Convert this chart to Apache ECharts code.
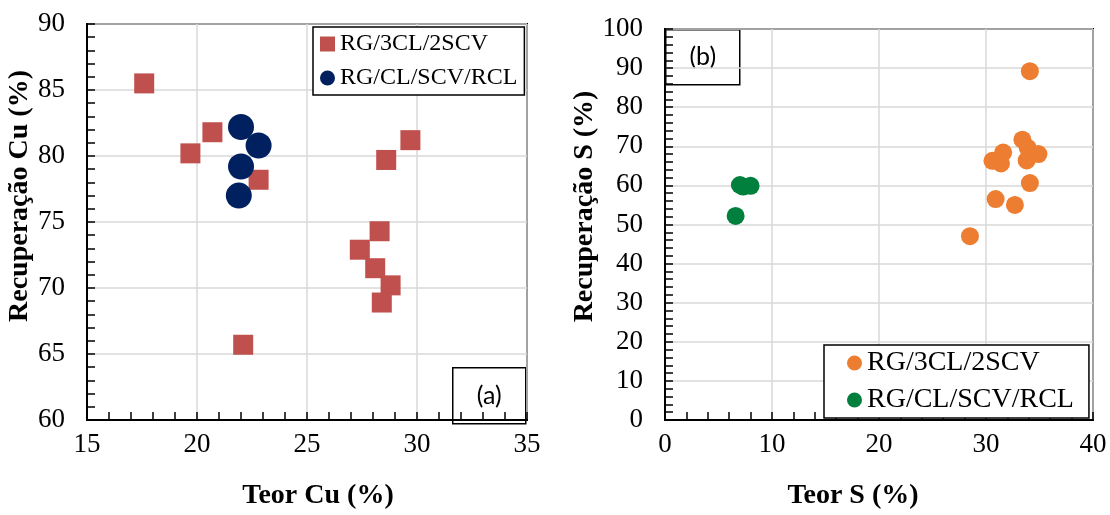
<!DOCTYPE html>
<html>
<head>
<meta charset="utf-8">
<script src="https://cdn.jsdelivr.net/npm/echarts@6/dist/echarts.min.js"></script>
<style>
  html, body { margin: 0; padding: 0; background: #fff; }
  #main { width: 1110px; height: 515px; }
</style>
</head>
<body>
<div id="main"></div>
<script>
// (a) Cu
var cuTeor3 = [17.6, 20.7, 19.7, 22.8, 29.7, 28.6, 28.3, 27.4, 28.1, 28.8, 28.4, 22.1];
var cuRec3 = [85.5, 81.8, 80.2, 78.2, 81.2, 79.7, 74.3, 72.9, 71.5, 70.2, 68.9, 65.7];
var cuTeorRcl = [22.0, 22.8, 22.0, 21.9];
var cuRecRcl = [82.2, 80.8, 79.2, 77.0];
// (b) S
var sTeor3 = [34.1, 33.4, 33.9, 34.9, 33.8, 31.6, 30.6, 31.4, 34.1, 30.9, 32.7, 28.5];
var sRec3 = [89.2, 71.7, 69.6, 68.0, 66.4, 68.4, 66.3, 65.6, 60.6, 56.5, 55.0, 47.0];
var sTeorRcl = [7.0, 7.3, 8.0, 6.6];
var sRecRcl = [60.1, 59.7, 59.9, 52.2];

var name1 = 'RG/3CL/2SCV';
var name2 = 'RG/CL/SCV/RCL';

function pares(xs, ys) {
    var out = [];
    for (var i = 0; i < xs.length; i++) {
        out.push([xs[i], ys[i]]);
    }
    return out;
}

var serif = 'Liberation Serif';

function eixo(gi, min, max, step, nome, gap, pad, vertical) {
    return {
        type: 'value',
        gridIndex: gi,
        min: min,
        max: max,
        interval: step,
        name: nome,
        nameLocation: 'middle',
        nameGap: gap,
        nameTextStyle: {
            fontFamily: serif, fontSize: 28, fontWeight: 'bold', color: '#000',
            padding: pad
        },
        axisLine: { show: true, onZero: false, lineStyle: { color: '#000', width: 2 } },
        axisTick: { show: true, inside: true, length: 8, lineStyle: { color: '#000', width: 1.5 } },
        minorTick: { show: true, splitNumber: 5, length: 8, lineStyle: { color: '#000', width: 1.5 } },
        axisLabel: {
            fontFamily: serif, fontSize: 27, color: '#000',
            margin: vertical ? 22 : 11
        },
        splitLine: { show: true, lineStyle: { color: '#d9d9d9', width: 1.5 } },
        z: 1
    };
}

var myChart = echarts.init(document.getElementById('main'));

var option = {
    animation: false,
    backgroundColor: '#fff',
    grid: [
        { left: 87, right: 583, top: 24, bottom: 92, show: true, borderColor: '#000', borderWidth: 2 },
        { left: 665, right: 17, top: 29, bottom: 92, show: true, borderColor: '#000', borderWidth: 2 }
    ],
    xAxis: [
        eixo(0, 15, 35, 5, 'Teor Cu (%)', 62, [0, 0, 0, 22], false),
        eixo(1, 0, 40, 10, 'Teor S (%)', 62, [0, 52, 0, 0], false)
    ],
    yAxis: [
        eixo(0, 60, 90, 5, 'Recuperação Cu (%)', 48, [0, 0, 0, 52], true),
        eixo(1, 0, 100, 10, 'Recuperação S (%)', 57, [0, 0, 0, 36], true)
    ],
    legend: [
        {
            left: 313, top: 27, orient: 'vertical',
            padding: [5, 7, 5, 7], itemGap: 10,
            itemWidth: 15, itemHeight: 15,
            backgroundColor: '#fff', borderColor: '#000', borderWidth: 1.5,
            textStyle: { fontFamily: serif, fontSize: 24, lineHeight: 24, color: '#000' },
            selectedMode: false,
            data: [
                { name: name1, icon: 'rect', itemStyle: { color: '#c0504d' } },
                { name: name2, icon: 'circle', itemStyle: { color: '#002060' } }
            ]
        },
        {
            left: 824, top: 345, orient: 'vertical',
            padding: [4, 15, 4, 23], itemGap: 9,
            itemWidth: 15, itemHeight: 15,
            backgroundColor: '#fff', borderColor: '#000', borderWidth: 1.5,
            textStyle: { fontFamily: serif, fontSize: 28, lineHeight: 28, color: '#000' },
            selectedMode: false,
            data: [
                { name: name1, icon: 'circle', itemStyle: { color: '#ed7d31' } },
                { name: name2, icon: 'circle', itemStyle: { color: '#00803c' } }
            ]
        }
    ],
    series: [
        {
            name: name1, type: 'scatter', xAxisIndex: 0, yAxisIndex: 0,
            symbol: 'rect', symbolSize: 20, z: 3,
            itemStyle: { color: '#c0504d', opacity: 1 },
            data: pares(cuTeor3, cuRec3)
        },
        {
            name: name2, type: 'scatter', xAxisIndex: 0, yAxisIndex: 0,
            symbol: 'circle', symbolSize: 26, z: 3,
            itemStyle: { color: '#002060', opacity: 1 },
            data: pares(cuTeorRcl, cuRecRcl)
        },
        {
            name: name1, type: 'scatter', xAxisIndex: 1, yAxisIndex: 1,
            symbol: 'circle', symbolSize: 18, z: 3,
            itemStyle: { color: '#ed7d31', opacity: 1 },
            data: pares(sTeor3, sRec3)
        },
        {
            name: name2, type: 'scatter', xAxisIndex: 1, yAxisIndex: 1,
            symbol: 'circle', symbolSize: 18, z: 3,
            itemStyle: { color: '#00803c', opacity: 1 },
            data: pares(sTeorRcl, sRecRcl)
        }
    ],
    graphic: [
        {
            type: 'group', left: 452, top: 367, z: 100,
            children: [
                { type: 'rect', shape: { x: 0, y: 0, width: 73, height: 56 },
                  style: { fill: '#fff', stroke: '#000', lineWidth: 1.5 } },
                { type: 'text', x: 36.5, y: 28,
                  style: { text: '(a)', font: '25px Lato', fill: '#000', align: 'center', verticalAlign: 'middle' } }
            ]
        },
        {
            type: 'group', left: 665, top: 29, z: 100,
            children: [
                { type: 'rect', shape: { x: 0, y: 0, width: 74, height: 55 },
                  style: { fill: '#fff', stroke: '#000', lineWidth: 1.5 } },
                { type: 'text', x: 37, y: 27.5,
                  style: { text: '(b)', font: '25px Lato', fill: '#000', align: 'center', verticalAlign: 'middle' } }
            ]
        }
    ]
};

myChart.setOption(option);
</script>
</body>
</html>
